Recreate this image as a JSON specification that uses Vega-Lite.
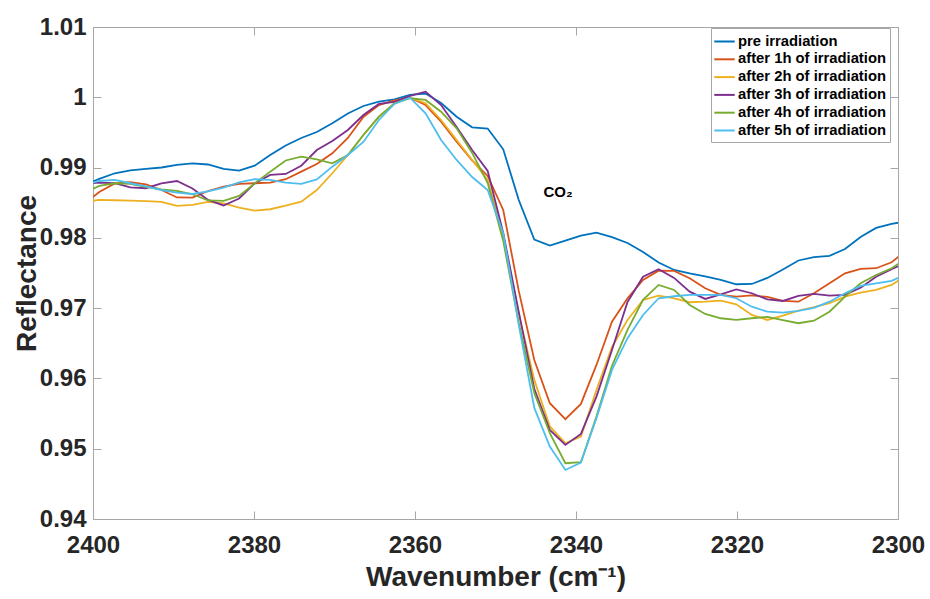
{
  "$schema": "https://vega.github.io/schema/vega-lite/v6.json",
  "width": 805,
  "height": 492,
  "autosize": {"type": "none"},
  "padding": {"left": 93, "top": 27, "right": 32, "bottom": 80},
  "background": "white",
  "config": {
    "font": "Liberation Sans",
    "view": {"stroke": null},
    "axis": {
      "grid": false,
      "domainColor": "#a6a6a6",
      "tickColor": "#a6a6a6",
      "domainWidth": 1,
      "tickWidth": 1,
      "tickSize": -8,
      "labelFlush": false,
      "labelFont": "Liberation Sans",
      "labelFontSize": 24,
      "labelFontWeight": "bold",
      "labelColor": "#262626",
      "titleFont": "Liberation Sans",
      "titleFontSize": 28,
      "titleFontWeight": "bold",
      "titleColor": "#262626"
    },
    "legend": {
      "orient": "none",
      "legendX": 618,
      "legendY": 1,
      "strokeColor": "#a6a6a6",
      "fillColor": "white",
      "padding": 4,
      "symbolType": "M-1.2,0H1.2",
      "symbolSize": 289,
      "symbolStrokeWidth": 2,
      "symbolFillColor": "transparent",
      "labelFont": "Liberation Sans",
      "labelFontSize": 14.8,
      "labelFontWeight": "bold",
      "labelColor": "black",
      "labelLimit": 300,
      "labelOffset": 4,
      "rowPadding": 0.8
    }
  },
  "layer": [
    {
      "data": {
        "values": [
          {"s": "pre irradiation", "w": 2401.15, "r": 0.98752},
          {"s": "pre irradiation", "w": 2399.22, "r": 0.98838},
          {"s": "pre irradiation", "w": 2397.29, "r": 0.98919},
          {"s": "pre irradiation", "w": 2395.36, "r": 0.98959},
          {"s": "pre irradiation", "w": 2393.43, "r": 0.98980},
          {"s": "pre irradiation", "w": 2391.50, "r": 0.99001},
          {"s": "pre irradiation", "w": 2389.57, "r": 0.99037},
          {"s": "pre irradiation", "w": 2387.64, "r": 0.99061},
          {"s": "pre irradiation", "w": 2385.71, "r": 0.99044},
          {"s": "pre irradiation", "w": 2383.78, "r": 0.98980},
          {"s": "pre irradiation", "w": 2381.85, "r": 0.98956},
          {"s": "pre irradiation", "w": 2379.92, "r": 0.99027},
          {"s": "pre irradiation", "w": 2377.99, "r": 0.99179},
          {"s": "pre irradiation", "w": 2376.06, "r": 0.99314},
          {"s": "pre irradiation", "w": 2374.13, "r": 0.99421},
          {"s": "pre irradiation", "w": 2372.20, "r": 0.99506},
          {"s": "pre irradiation", "w": 2370.27, "r": 0.99630},
          {"s": "pre irradiation", "w": 2368.34, "r": 0.99770},
          {"s": "pre irradiation", "w": 2366.41, "r": 0.99876},
          {"s": "pre irradiation", "w": 2364.48, "r": 0.99937},
          {"s": "pre irradiation", "w": 2362.55, "r": 0.99969},
          {"s": "pre irradiation", "w": 2360.62, "r": 1.00033},
          {"s": "pre irradiation", "w": 2358.69, "r": 1.00054},
          {"s": "pre irradiation", "w": 2356.76, "r": 0.99919},
          {"s": "pre irradiation", "w": 2354.83, "r": 0.99724},
          {"s": "pre irradiation", "w": 2352.90, "r": 0.99573},
          {"s": "pre irradiation", "w": 2350.97, "r": 0.99556},
          {"s": "pre irradiation", "w": 2349.04, "r": 0.99260},
          {"s": "pre irradiation", "w": 2347.11, "r": 0.98539},
          {"s": "pre irradiation", "w": 2345.18, "r": 0.97977},
          {"s": "pre irradiation", "w": 2343.25, "r": 0.97889},
          {"s": "pre irradiation", "w": 2341.32, "r": 0.97960},
          {"s": "pre irradiation", "w": 2339.39, "r": 0.98031},
          {"s": "pre irradiation", "w": 2337.46, "r": 0.98074},
          {"s": "pre irradiation", "w": 2335.53, "r": 0.98009},
          {"s": "pre irradiation", "w": 2333.60, "r": 0.97927},
          {"s": "pre irradiation", "w": 2331.67, "r": 0.97799},
          {"s": "pre irradiation", "w": 2329.74, "r": 0.97650},
          {"s": "pre irradiation", "w": 2327.81, "r": 0.97543},
          {"s": "pre irradiation", "w": 2325.88, "r": 0.97494},
          {"s": "pre irradiation", "w": 2323.95, "r": 0.97451},
          {"s": "pre irradiation", "w": 2322.02, "r": 0.97401},
          {"s": "pre irradiation", "w": 2320.09, "r": 0.97340},
          {"s": "pre irradiation", "w": 2318.16, "r": 0.97344},
          {"s": "pre irradiation", "w": 2316.23, "r": 0.97430},
          {"s": "pre irradiation", "w": 2314.30, "r": 0.97550},
          {"s": "pre irradiation", "w": 2312.37, "r": 0.97678},
          {"s": "pre irradiation", "w": 2310.44, "r": 0.97725},
          {"s": "pre irradiation", "w": 2308.51, "r": 0.97745},
          {"s": "pre irradiation", "w": 2306.58, "r": 0.97842},
          {"s": "pre irradiation", "w": 2304.65, "r": 0.98013},
          {"s": "pre irradiation", "w": 2302.72, "r": 0.98141},
          {"s": "pre irradiation", "w": 2300.79, "r": 0.98198},
          {"s": "pre irradiation", "w": 2298.86, "r": 0.98240},

          {"s": "after 1h of irradiation", "w": 2401.15, "r": 0.98482},
          {"s": "after 1h of irradiation", "w": 2399.22, "r": 0.98653},
          {"s": "after 1h of irradiation", "w": 2397.29, "r": 0.98774},
          {"s": "after 1h of irradiation", "w": 2395.36, "r": 0.98791},
          {"s": "after 1h of irradiation", "w": 2393.43, "r": 0.98760},
          {"s": "after 1h of irradiation", "w": 2391.50, "r": 0.98681},
          {"s": "after 1h of irradiation", "w": 2389.57, "r": 0.98575},
          {"s": "after 1h of irradiation", "w": 2387.64, "r": 0.98572},
          {"s": "after 1h of irradiation", "w": 2385.71, "r": 0.98667},
          {"s": "after 1h of irradiation", "w": 2383.78, "r": 0.98728},
          {"s": "after 1h of irradiation", "w": 2381.85, "r": 0.98767},
          {"s": "after 1h of irradiation", "w": 2379.92, "r": 0.98777},
          {"s": "after 1h of irradiation", "w": 2377.99, "r": 0.98785},
          {"s": "after 1h of irradiation", "w": 2376.06, "r": 0.98834},
          {"s": "after 1h of irradiation", "w": 2374.13, "r": 0.98942},
          {"s": "after 1h of irradiation", "w": 2372.20, "r": 0.99051},
          {"s": "after 1h of irradiation", "w": 2370.27, "r": 0.99203},
          {"s": "after 1h of irradiation", "w": 2368.34, "r": 0.99421},
          {"s": "after 1h of irradiation", "w": 2366.41, "r": 0.99720},
          {"s": "after 1h of irradiation", "w": 2364.48, "r": 0.99890},
          {"s": "after 1h of irradiation", "w": 2362.55, "r": 0.99955},
          {"s": "after 1h of irradiation", "w": 2360.62, "r": 0.99994},
          {"s": "after 1h of irradiation", "w": 2358.69, "r": 0.99890},
          {"s": "after 1h of irradiation", "w": 2356.76, "r": 0.99653},
          {"s": "after 1h of irradiation", "w": 2354.83, "r": 0.99368},
          {"s": "after 1h of irradiation", "w": 2352.90, "r": 0.99101},
          {"s": "after 1h of irradiation", "w": 2350.97, "r": 0.98881},
          {"s": "after 1h of irradiation", "w": 2349.04, "r": 0.98397},
          {"s": "after 1h of irradiation", "w": 2347.11, "r": 0.97245},
          {"s": "after 1h of irradiation", "w": 2345.18, "r": 0.96263},
          {"s": "after 1h of irradiation", "w": 2343.25, "r": 0.95647},
          {"s": "after 1h of irradiation", "w": 2341.32, "r": 0.95420},
          {"s": "after 1h of irradiation", "w": 2339.39, "r": 0.95637},
          {"s": "after 1h of irradiation", "w": 2337.46, "r": 0.96192},
          {"s": "after 1h of irradiation", "w": 2335.53, "r": 0.96808},
          {"s": "after 1h of irradiation", "w": 2333.60, "r": 0.97141},
          {"s": "after 1h of irradiation", "w": 2331.67, "r": 0.97401},
          {"s": "after 1h of irradiation", "w": 2329.74, "r": 0.97533},
          {"s": "after 1h of irradiation", "w": 2327.81, "r": 0.97529},
          {"s": "after 1h of irradiation", "w": 2325.88, "r": 0.97425},
          {"s": "after 1h of irradiation", "w": 2323.95, "r": 0.97283},
          {"s": "after 1h of irradiation", "w": 2322.02, "r": 0.97188},
          {"s": "after 1h of irradiation", "w": 2320.09, "r": 0.97164},
          {"s": "after 1h of irradiation", "w": 2318.16, "r": 0.97181},
          {"s": "after 1h of irradiation", "w": 2316.23, "r": 0.97159},
          {"s": "after 1h of irradiation", "w": 2314.30, "r": 0.97102},
          {"s": "after 1h of irradiation", "w": 2312.37, "r": 0.97092},
          {"s": "after 1h of irradiation", "w": 2310.44, "r": 0.97212},
          {"s": "after 1h of irradiation", "w": 2308.51, "r": 0.97354},
          {"s": "after 1h of irradiation", "w": 2306.58, "r": 0.97496},
          {"s": "after 1h of irradiation", "w": 2304.65, "r": 0.97558},
          {"s": "after 1h of irradiation", "w": 2302.72, "r": 0.97568},
          {"s": "after 1h of irradiation", "w": 2300.79, "r": 0.97653},
          {"s": "after 1h of irradiation", "w": 2298.86, "r": 0.97828},

          {"s": "after 2h of irradiation", "w": 2401.15, "r": 0.98511},
          {"s": "after 2h of irradiation", "w": 2399.22, "r": 0.98539},
          {"s": "after 2h of irradiation", "w": 2397.29, "r": 0.98535},
          {"s": "after 2h of irradiation", "w": 2395.36, "r": 0.98529},
          {"s": "after 2h of irradiation", "w": 2393.43, "r": 0.98522},
          {"s": "after 2h of irradiation", "w": 2391.50, "r": 0.98511},
          {"s": "after 2h of irradiation", "w": 2389.57, "r": 0.98454},
          {"s": "after 2h of irradiation", "w": 2387.64, "r": 0.98468},
          {"s": "after 2h of irradiation", "w": 2385.71, "r": 0.98511},
          {"s": "after 2h of irradiation", "w": 2383.78, "r": 0.98492},
          {"s": "after 2h of irradiation", "w": 2381.85, "r": 0.98430},
          {"s": "after 2h of irradiation", "w": 2379.92, "r": 0.98387},
          {"s": "after 2h of irradiation", "w": 2377.99, "r": 0.98407},
          {"s": "after 2h of irradiation", "w": 2376.06, "r": 0.98458},
          {"s": "after 2h of irradiation", "w": 2374.13, "r": 0.98515},
          {"s": "after 2h of irradiation", "w": 2372.20, "r": 0.98681},
          {"s": "after 2h of irradiation", "w": 2370.27, "r": 0.98919},
          {"s": "after 2h of irradiation", "w": 2368.34, "r": 0.99179},
          {"s": "after 2h of irradiation", "w": 2366.41, "r": 0.99464},
          {"s": "after 2h of irradiation", "w": 2364.48, "r": 0.99724},
          {"s": "after 2h of irradiation", "w": 2362.55, "r": 0.99919},
          {"s": "after 2h of irradiation", "w": 2360.62, "r": 0.99994},
          {"s": "after 2h of irradiation", "w": 2358.69, "r": 0.99915},
          {"s": "after 2h of irradiation", "w": 2356.76, "r": 0.99677},
          {"s": "after 2h of irradiation", "w": 2354.83, "r": 0.99393},
          {"s": "after 2h of irradiation", "w": 2352.90, "r": 0.99108},
          {"s": "after 2h of irradiation", "w": 2350.97, "r": 0.98824},
          {"s": "after 2h of irradiation", "w": 2349.04, "r": 0.98027},
          {"s": "after 2h of irradiation", "w": 2347.11, "r": 0.96918},
          {"s": "after 2h of irradiation", "w": 2345.18, "r": 0.95979},
          {"s": "after 2h of irradiation", "w": 2343.25, "r": 0.95317},
          {"s": "after 2h of irradiation", "w": 2341.32, "r": 0.95078},
          {"s": "after 2h of irradiation", "w": 2339.39, "r": 0.95172},
          {"s": "after 2h of irradiation", "w": 2337.46, "r": 0.95836},
          {"s": "after 2h of irradiation", "w": 2335.53, "r": 0.96448},
          {"s": "after 2h of irradiation", "w": 2333.60, "r": 0.96832},
          {"s": "after 2h of irradiation", "w": 2331.67, "r": 0.97117},
          {"s": "after 2h of irradiation", "w": 2329.74, "r": 0.97178},
          {"s": "after 2h of irradiation", "w": 2327.81, "r": 0.97138},
          {"s": "after 2h of irradiation", "w": 2325.88, "r": 0.97084},
          {"s": "after 2h of irradiation", "w": 2323.95, "r": 0.97092},
          {"s": "after 2h of irradiation", "w": 2322.02, "r": 0.97107},
          {"s": "after 2h of irradiation", "w": 2320.09, "r": 0.97055},
          {"s": "after 2h of irradiation", "w": 2318.16, "r": 0.96903},
          {"s": "after 2h of irradiation", "w": 2316.23, "r": 0.96832},
          {"s": "after 2h of irradiation", "w": 2314.30, "r": 0.96893},
          {"s": "after 2h of irradiation", "w": 2312.37, "r": 0.96964},
          {"s": "after 2h of irradiation", "w": 2310.44, "r": 0.97013},
          {"s": "after 2h of irradiation", "w": 2308.51, "r": 0.97070},
          {"s": "after 2h of irradiation", "w": 2306.58, "r": 0.97164},
          {"s": "after 2h of irradiation", "w": 2304.65, "r": 0.97220},
          {"s": "after 2h of irradiation", "w": 2302.72, "r": 0.97259},
          {"s": "after 2h of irradiation", "w": 2300.79, "r": 0.97330},
          {"s": "after 2h of irradiation", "w": 2298.86, "r": 0.97472},

          {"s": "after 3h of irradiation", "w": 2401.15, "r": 0.98767},
          {"s": "after 3h of irradiation", "w": 2399.22, "r": 0.98785},
          {"s": "after 3h of irradiation", "w": 2397.29, "r": 0.98777},
          {"s": "after 3h of irradiation", "w": 2395.36, "r": 0.98717},
          {"s": "after 3h of irradiation", "w": 2393.43, "r": 0.98706},
          {"s": "after 3h of irradiation", "w": 2391.50, "r": 0.98774},
          {"s": "after 3h of irradiation", "w": 2389.57, "r": 0.98809},
          {"s": "after 3h of irradiation", "w": 2387.64, "r": 0.98703},
          {"s": "after 3h of irradiation", "w": 2385.71, "r": 0.98539},
          {"s": "after 3h of irradiation", "w": 2383.78, "r": 0.98461},
          {"s": "after 3h of irradiation", "w": 2381.85, "r": 0.98560},
          {"s": "after 3h of irradiation", "w": 2379.92, "r": 0.98774},
          {"s": "after 3h of irradiation", "w": 2377.99, "r": 0.98895},
          {"s": "after 3h of irradiation", "w": 2376.06, "r": 0.98909},
          {"s": "after 3h of irradiation", "w": 2374.13, "r": 0.99027},
          {"s": "after 3h of irradiation", "w": 2372.20, "r": 0.99250},
          {"s": "after 3h of irradiation", "w": 2370.27, "r": 0.99378},
          {"s": "after 3h of irradiation", "w": 2368.34, "r": 0.99535},
          {"s": "after 3h of irradiation", "w": 2366.41, "r": 0.99748},
          {"s": "after 3h of irradiation", "w": 2364.48, "r": 0.99905},
          {"s": "after 3h of irradiation", "w": 2362.55, "r": 0.99933},
          {"s": "after 3h of irradiation", "w": 2360.62, "r": 1.00019},
          {"s": "after 3h of irradiation", "w": 2358.69, "r": 1.00080},
          {"s": "after 3h of irradiation", "w": 2356.76, "r": 0.99890},
          {"s": "after 3h of irradiation", "w": 2354.83, "r": 0.99578},
          {"s": "after 3h of irradiation", "w": 2352.90, "r": 0.99250},
          {"s": "after 3h of irradiation", "w": 2350.97, "r": 0.98952},
          {"s": "after 3h of irradiation", "w": 2349.04, "r": 0.98070},
          {"s": "after 3h of irradiation", "w": 2347.11, "r": 0.96946},
          {"s": "after 3h of irradiation", "w": 2345.18, "r": 0.95851},
          {"s": "after 3h of irradiation", "w": 2343.25, "r": 0.95267},
          {"s": "after 3h of irradiation", "w": 2341.32, "r": 0.95054},
          {"s": "after 3h of irradiation", "w": 2339.39, "r": 0.95210},
          {"s": "after 3h of irradiation", "w": 2337.46, "r": 0.95741},
          {"s": "after 3h of irradiation", "w": 2335.53, "r": 0.96405},
          {"s": "after 3h of irradiation", "w": 2333.60, "r": 0.97088},
          {"s": "after 3h of irradiation", "w": 2331.67, "r": 0.97448},
          {"s": "after 3h of irradiation", "w": 2329.74, "r": 0.97553},
          {"s": "after 3h of irradiation", "w": 2327.81, "r": 0.97430},
          {"s": "after 3h of irradiation", "w": 2325.88, "r": 0.97235},
          {"s": "after 3h of irradiation", "w": 2323.95, "r": 0.97131},
          {"s": "after 3h of irradiation", "w": 2322.02, "r": 0.97195},
          {"s": "after 3h of irradiation", "w": 2320.09, "r": 0.97266},
          {"s": "after 3h of irradiation", "w": 2318.16, "r": 0.97212},
          {"s": "after 3h of irradiation", "w": 2316.23, "r": 0.97124},
          {"s": "after 3h of irradiation", "w": 2314.30, "r": 0.97102},
          {"s": "after 3h of irradiation", "w": 2312.37, "r": 0.97174},
          {"s": "after 3h of irradiation", "w": 2310.44, "r": 0.97202},
          {"s": "after 3h of irradiation", "w": 2308.51, "r": 0.97178},
          {"s": "after 3h of irradiation", "w": 2306.58, "r": 0.97188},
          {"s": "after 3h of irradiation", "w": 2304.65, "r": 0.97292},
          {"s": "after 3h of irradiation", "w": 2302.72, "r": 0.97448},
          {"s": "after 3h of irradiation", "w": 2300.79, "r": 0.97553},
          {"s": "after 3h of irradiation", "w": 2298.86, "r": 0.97657},

          {"s": "after 4h of irradiation", "w": 2401.15, "r": 0.98639},
          {"s": "after 4h of irradiation", "w": 2399.22, "r": 0.98738},
          {"s": "after 4h of irradiation", "w": 2397.29, "r": 0.98777},
          {"s": "after 4h of irradiation", "w": 2395.36, "r": 0.98767},
          {"s": "after 4h of irradiation", "w": 2393.43, "r": 0.98724},
          {"s": "after 4h of irradiation", "w": 2391.50, "r": 0.98691},
          {"s": "after 4h of irradiation", "w": 2389.57, "r": 0.98667},
          {"s": "after 4h of irradiation", "w": 2387.64, "r": 0.98620},
          {"s": "after 4h of irradiation", "w": 2385.71, "r": 0.98532},
          {"s": "after 4h of irradiation", "w": 2383.78, "r": 0.98525},
          {"s": "after 4h of irradiation", "w": 2381.85, "r": 0.98596},
          {"s": "after 4h of irradiation", "w": 2379.92, "r": 0.98774},
          {"s": "after 4h of irradiation", "w": 2377.99, "r": 0.98942},
          {"s": "after 4h of irradiation", "w": 2376.06, "r": 0.99101},
          {"s": "after 4h of irradiation", "w": 2374.13, "r": 0.99155},
          {"s": "after 4h of irradiation", "w": 2372.20, "r": 0.99118},
          {"s": "after 4h of irradiation", "w": 2370.27, "r": 0.99061},
          {"s": "after 4h of irradiation", "w": 2368.34, "r": 0.99179},
          {"s": "after 4h of irradiation", "w": 2366.41, "r": 0.99464},
          {"s": "after 4h of irradiation", "w": 2364.48, "r": 0.99724},
          {"s": "after 4h of irradiation", "w": 2362.55, "r": 0.99912},
          {"s": "after 4h of irradiation", "w": 2360.62, "r": 0.99986},
          {"s": "after 4h of irradiation", "w": 2358.69, "r": 0.99962},
          {"s": "after 4h of irradiation", "w": 2356.76, "r": 0.99795},
          {"s": "after 4h of irradiation", "w": 2354.83, "r": 0.99559},
          {"s": "after 4h of irradiation", "w": 2352.90, "r": 0.99208},
          {"s": "after 4h of irradiation", "w": 2350.97, "r": 0.98781},
          {"s": "after 4h of irradiation", "w": 2349.04, "r": 0.97956},
          {"s": "after 4h of irradiation", "w": 2347.11, "r": 0.96789},
          {"s": "after 4h of irradiation", "w": 2345.18, "r": 0.95794},
          {"s": "after 4h of irradiation", "w": 2343.25, "r": 0.95220},
          {"s": "after 4h of irradiation", "w": 2341.32, "r": 0.94794},
          {"s": "after 4h of irradiation", "w": 2339.39, "r": 0.94808},
          {"s": "after 4h of irradiation", "w": 2337.46, "r": 0.95457},
          {"s": "after 4h of irradiation", "w": 2335.53, "r": 0.96178},
          {"s": "after 4h of irradiation", "w": 2333.60, "r": 0.96690},
          {"s": "after 4h of irradiation", "w": 2331.67, "r": 0.97117},
          {"s": "after 4h of irradiation", "w": 2329.74, "r": 0.97330},
          {"s": "after 4h of irradiation", "w": 2327.81, "r": 0.97259},
          {"s": "after 4h of irradiation", "w": 2325.88, "r": 0.97045},
          {"s": "after 4h of irradiation", "w": 2323.95, "r": 0.96918},
          {"s": "after 4h of irradiation", "w": 2322.02, "r": 0.96856},
          {"s": "after 4h of irradiation", "w": 2320.09, "r": 0.96832},
          {"s": "after 4h of irradiation", "w": 2318.16, "r": 0.96856},
          {"s": "after 4h of irradiation", "w": 2316.23, "r": 0.96875},
          {"s": "after 4h of irradiation", "w": 2314.30, "r": 0.96828},
          {"s": "after 4h of irradiation", "w": 2312.37, "r": 0.96785},
          {"s": "after 4h of irradiation", "w": 2310.44, "r": 0.96822},
          {"s": "after 4h of irradiation", "w": 2308.51, "r": 0.96950},
          {"s": "after 4h of irradiation", "w": 2306.58, "r": 0.97164},
          {"s": "after 4h of irradiation", "w": 2304.65, "r": 0.97354},
          {"s": "after 4h of irradiation", "w": 2302.72, "r": 0.97472},
          {"s": "after 4h of irradiation", "w": 2300.79, "r": 0.97568},
          {"s": "after 4h of irradiation", "w": 2298.86, "r": 0.97714},

          {"s": "after 5h of irradiation", "w": 2401.15, "r": 0.98752},
          {"s": "after 5h of irradiation", "w": 2399.22, "r": 0.98809},
          {"s": "after 5h of irradiation", "w": 2397.29, "r": 0.98824},
          {"s": "after 5h of irradiation", "w": 2395.36, "r": 0.98777},
          {"s": "after 5h of irradiation", "w": 2393.43, "r": 0.98731},
          {"s": "after 5h of irradiation", "w": 2391.50, "r": 0.98681},
          {"s": "after 5h of irradiation", "w": 2389.57, "r": 0.98643},
          {"s": "after 5h of irradiation", "w": 2387.64, "r": 0.98624},
          {"s": "after 5h of irradiation", "w": 2385.71, "r": 0.98660},
          {"s": "after 5h of irradiation", "w": 2383.78, "r": 0.98714},
          {"s": "after 5h of irradiation", "w": 2381.85, "r": 0.98788},
          {"s": "after 5h of irradiation", "w": 2379.92, "r": 0.98834},
          {"s": "after 5h of irradiation", "w": 2377.99, "r": 0.98824},
          {"s": "after 5h of irradiation", "w": 2376.06, "r": 0.98785},
          {"s": "after 5h of irradiation", "w": 2374.13, "r": 0.98767},
          {"s": "after 5h of irradiation", "w": 2372.20, "r": 0.98831},
          {"s": "after 5h of irradiation", "w": 2370.27, "r": 0.99013},
          {"s": "after 5h of irradiation", "w": 2368.34, "r": 0.99179},
          {"s": "after 5h of irradiation", "w": 2366.41, "r": 0.99364},
          {"s": "after 5h of irradiation", "w": 2364.48, "r": 0.99677},
          {"s": "after 5h of irradiation", "w": 2362.55, "r": 0.99905},
          {"s": "after 5h of irradiation", "w": 2360.62, "r": 0.99994},
          {"s": "after 5h of irradiation", "w": 2358.69, "r": 0.99772},
          {"s": "after 5h of irradiation", "w": 2356.76, "r": 0.99393},
          {"s": "after 5h of irradiation", "w": 2354.83, "r": 0.99108},
          {"s": "after 5h of irradiation", "w": 2352.90, "r": 0.98866},
          {"s": "after 5h of irradiation", "w": 2350.97, "r": 0.98681},
          {"s": "after 5h of irradiation", "w": 2349.04, "r": 0.98065},
          {"s": "after 5h of irradiation", "w": 2347.11, "r": 0.96761},
          {"s": "after 5h of irradiation", "w": 2345.18, "r": 0.95580},
          {"s": "after 5h of irradiation", "w": 2343.25, "r": 0.95030},
          {"s": "after 5h of irradiation", "w": 2341.32, "r": 0.94698},
          {"s": "after 5h of irradiation", "w": 2339.39, "r": 0.94802},
          {"s": "after 5h of irradiation", "w": 2337.46, "r": 0.95434},
          {"s": "after 5h of irradiation", "w": 2335.53, "r": 0.96121},
          {"s": "after 5h of irradiation", "w": 2333.60, "r": 0.96572},
          {"s": "after 5h of irradiation", "w": 2331.67, "r": 0.96903},
          {"s": "after 5h of irradiation", "w": 2329.74, "r": 0.97141},
          {"s": "after 5h of irradiation", "w": 2327.81, "r": 0.97169},
          {"s": "after 5h of irradiation", "w": 2325.88, "r": 0.97188},
          {"s": "after 5h of irradiation", "w": 2323.95, "r": 0.97188},
          {"s": "after 5h of irradiation", "w": 2322.02, "r": 0.97188},
          {"s": "after 5h of irradiation", "w": 2320.09, "r": 0.97141},
          {"s": "after 5h of irradiation", "w": 2318.16, "r": 0.97021},
          {"s": "after 5h of irradiation", "w": 2316.23, "r": 0.96950},
          {"s": "after 5h of irradiation", "w": 2314.30, "r": 0.96936},
          {"s": "after 5h of irradiation", "w": 2312.37, "r": 0.96960},
          {"s": "after 5h of irradiation", "w": 2310.44, "r": 0.97003},
          {"s": "after 5h of irradiation", "w": 2308.51, "r": 0.97092},
          {"s": "after 5h of irradiation", "w": 2306.58, "r": 0.97212},
          {"s": "after 5h of irradiation", "w": 2304.65, "r": 0.97316},
          {"s": "after 5h of irradiation", "w": 2302.72, "r": 0.97354},
          {"s": "after 5h of irradiation", "w": 2300.79, "r": 0.97387},
          {"s": "after 5h of irradiation", "w": 2298.86, "r": 0.97486}
        ]
      },
      "mark": {"type": "line", "strokeWidth": 1.8, "clip": true},
      "encoding": {
        "x": {
          "field": "w",
          "type": "quantitative",
          "scale": {"domain": [2300, 2400], "reverse": true, "nice": false, "zero": false},
          "axis": {
            "values": [2300, 2320, 2340, 2360, 2380, 2400],
            "format": "d",
            "labelPadding": 22,
            "title": "Wavenumber (cm⁻¹)",
            "titlePadding": 6
          }
        },
        "y": {
          "field": "r",
          "type": "quantitative",
          "scale": {"domain": [0.94, 1.01], "nice": false, "zero": false},
          "axis": {
            "values": [0.94, 0.95, 0.96, 0.97, 0.98, 0.99, 1, 1.01],
            "format": "~g",
            "labelPadding": 15,
            "title": "Reflectance",
            "titlePadding": -2
          }
        },
        "color": {
          "field": "s",
          "type": "nominal",
          "scale": {
            "domain": ["pre irradiation", "after 1h of irradiation", "after 2h of irradiation", "after 3h of irradiation", "after 4h of irradiation", "after 5h of irradiation"],
            "range": ["#0072BD", "#D95319", "#EDB120", "#7E2F8E", "#77AC30", "#4DBEEE"]
          },
          "legend": {"title": null}
        }
      }
    },
    {
      "data": {"values": [{"w": 2342.24, "r": 0.98653, "t": "CO₂"}]},
      "mark": {"type": "text", "fontSize": 15, "fontWeight": "bold", "font": "Liberation Sans", "color": "black", "align": "center", "baseline": "middle"},
      "encoding": {
        "x": {
          "field": "w",
          "type": "quantitative",
          "axis": {"orient": "top", "values": [2300, 2320, 2340, 2360, 2380, 2400], "labels": false, "title": null}
        },
        "y": {
          "field": "r",
          "type": "quantitative",
          "axis": {"orient": "right", "values": [0.94, 0.95, 0.96, 0.97, 0.98, 0.99, 1, 1.01], "labels": false, "title": null}
        },
        "text": {"field": "t"}
      }
    }
  ],
  "resolve": {"axis": {"x": "independent", "y": "independent"}}
}
